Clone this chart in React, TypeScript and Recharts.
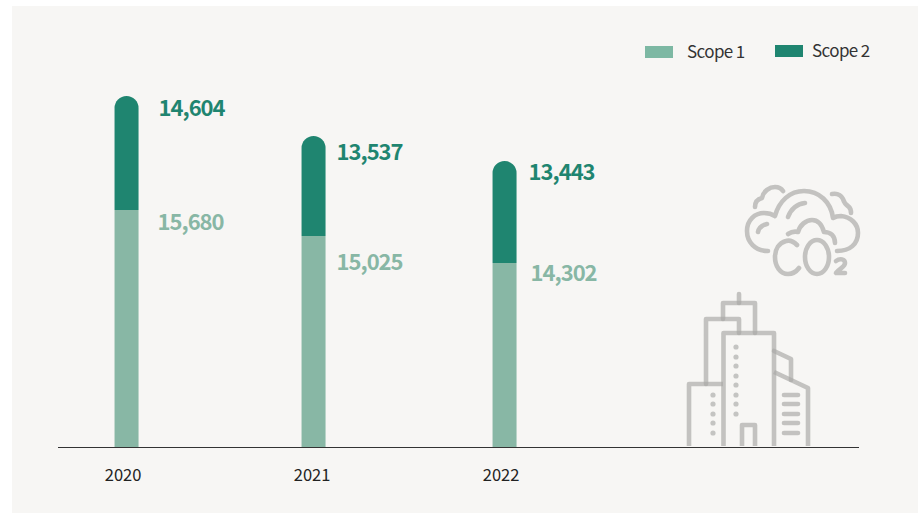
import React from 'react';
import { BarChart, Bar, XAxis, YAxis, Legend, LabelList, Rectangle } from 'recharts';

// Printed values
const years = [2020, 2021, 2022];
const scope1 = [15680, 15025, 14302];
const scope2 = [14604, 13537, 13443];

// The source graphic is not drawn to scale: these are the bar lengths read off
// the picture (1 unit = 1px), the printed numbers above are only used as labels.
const scope1Drawn = [237, 211, 184];
const scope2Drawn = [114, 100, 102];

const data = years.map((year, i) => ({
    year,
    scope1: scope1[i],
    scope2: scope2[i],
    scope1Drawn: scope1Drawn[i],
    scope2Drawn: scope2Drawn[i]
}));

const LIGHT = '#88b7a5';
const DARK = '#1f8570';
const FONT = '"Noto Sans CJK KR", "Noto Sans", sans-serif';

// small hand placement differences of the original
const barNudge = [0, -2, 0];
const scope1LabelOffset = [[19, 12], [11, 26], [14, 10]];
const scope2LabelOffset = [[20, 12], [11, 16], [12, 11]];

const makeBar = (radius: number[]) => (props: any) => (
    <Rectangle
        x={props.x + barNudge[props.index]}
        y={props.y}
        width={props.width}
        height={props.height}
        fill={props.fill}
        radius={radius as any}
    />
);

const makeLabel = (offsets: number[][], color: string) => (props: any) => {
    const { x, y, width, index, value } = props;
    return (
        <text
            x={x + width + barNudge[index] + offsets[index][0]}
            y={y + offsets[index][1]}
            dy="0.36em"
            fill={color}
            fontFamily={FONT}
            fontSize={22}
            fontWeight={700}
            letterSpacing={-1}
        >
            {Number(value).toLocaleString('en-US')}
        </text>
    );
};

const LegendContent = () => {
    const swatch = (left: number, top: number, color: string) => (
        <div style={{ position: 'absolute', left, top, width: 28, height: 12, background: color }} />
    );
    const label = (left: number, top: number, text: string) => (
        <div style={{ position: 'absolute', left, top, fontFamily: FONT, fontSize: 17, letterSpacing: -0.6, lineHeight: '22px', color: '#333', whiteSpace: 'nowrap' }}>
            {text}
        </div>
    );
    return (
        <div>
            {swatch(645, 46, '#7db8a3')}
            {label(687, 40, 'Scope 1')}
            {swatch(775, 45, DARK)}
            {label(812, 39, 'Scope 2')}
        </div>
    );
};

const mainDots = [347, 357, 366, 376, 385, 395, 404, 414];
const sideDots = [395, 404, 414, 423, 433];
const slats = [395, 404, 414, 423, 433];

const Icons = () => (
    <svg width={918} height={513} style={{ position: 'absolute', left: 0, top: 0 }}>
        <g fill="none" stroke="#a9a9a7" strokeOpacity={0.68} strokeWidth={4.6} strokeLinecap="round" strokeLinejoin="round">
            {/* buildings */}
            <path d="M689 446 V384 H723" strokeLinecap="butt" />
            <path d="M706 384 V319 H739 V333" />
            <path d="M723 319 V303 H755 V333" />
            <path d="M739 294 V303" />
            <path d="M723.5 446 V333 H774 V446" strokeLinecap="butt" />
            <path d="M774 372 L808 388 V446" strokeLinecap="butt" />
            <path d="M774 351 L791 359 V380" />
            <path d="M742 446 V425 H755 V446" strokeLinecap="butt" />
            {slats.map((y) => <path key={y} d={`M784 ${y} H798`} />)}
            {/* cloud */}
            <path d="M768 251 C755 251 747 242 747 231 C747 220 755 213 764 213 C769 213 772 214 775 216 C779 201 790 191 804 191 C819 191 831 202 833 218 C836 216 838 216 841 216 C851 217 858 224 858 233 C858 244 850 251 837 251" />
            <path d="M755 207 C755 201 758 199 762 198 C763 191 770 187 775 187 C779 187 781 188 783 191" />
            <path d="M832 194 C838 193 841 195 843 199 C844 203 846 205 849 207 C851 209 851 211 851 213" />
            <path d="M788 217 C791 209 797 204 805 203" />
            <path d="M758 232 C759 227 762 225 767 224" />
            <path d="M788 234 C791 232 794 231 798 232 C800 225 806 220 812 220 C818 220 822 225 824 232 C831 232 835 236 835 243" />
            {/* CO2 */}
            <path d="M797 245 C793 241 789 240 786 241 C779 243 775 249 775 257 C775 266 780 274 788 274 C792 274 796 272 799 268" />
            <ellipse cx={817} cy={257} rx={12} ry={17} />
            <path d="M836 261 C840 258 845 259 845 263 C845 267 840 268 836 273 H845" />
        </g>
        <g fill="#c4c4c2">
            {mainDots.map((y) => <circle key={y} cx={736} cy={y} r={2.6} />)}
            {sideDots.map((y) => <circle key={y} cx={713} cy={y} r={2.6} />)}
        </g>
    </svg>
);

export default function App() {
    return (
        <div style={{ position: 'absolute', left: 0, top: 0, width: 918, height: 513, background: '#fff', overflow: 'hidden' }}>
            <div style={{ position: 'absolute', left: 12, top: 6, width: 906, height: 507, background: '#f7f6f4' }} />
            <Icons />
            <div style={{ position: 'absolute', left: 0, top: 0 }}>
                <BarChart
                    width={918}
                    height={513}
                    data={data}
                    margin={{ top: 47, right: 59, bottom: 0, left: 58 }}
                >
                    <XAxis
                        dataKey="year"
                        type="number"
                        domain={[2019.64, 2023.878]}
                        ticks={years}
                        allowDataOverflow
                        height={66}
                        tickLine={false}
                        tickMargin={16}
                        axisLine={{ stroke: '#333', strokeWidth: 1, transform: 'translate(0 0.5)' }}
                        tick={{ fill: '#222', fontSize: 16.5, fontFamily: FONT, dx: -3 }}
                    />
                    <YAxis hide domain={[0, 400]} />
                    <Legend
                        verticalAlign="middle"
                        content={<LegendContent />}
                        wrapperStyle={{ position: 'absolute', left: 0, top: 0, width: 918, height: 0 }}
                    />
                    <Bar
                        dataKey="scope1Drawn"
                        name="Scope 1"
                        stackId="a"
                        fill={LIGHT}
                        barSize={24}
                        isAnimationActive={false}
                        shape={makeBar([0, 0, 0, 0])}
                    >
                        <LabelList dataKey="scope1" content={makeLabel(scope1LabelOffset, LIGHT)} />
                    </Bar>
                    <Bar
                        dataKey="scope2Drawn"
                        name="Scope 2"
                        stackId="a"
                        fill={DARK}
                        barSize={24}
                        isAnimationActive={false}
                        shape={makeBar([12, 12, 0, 0])}
                    >
                        <LabelList dataKey="scope2" content={makeLabel(scope2LabelOffset, DARK)} />
                    </Bar>
                </BarChart>
            </div>
        </div>
    );
}
